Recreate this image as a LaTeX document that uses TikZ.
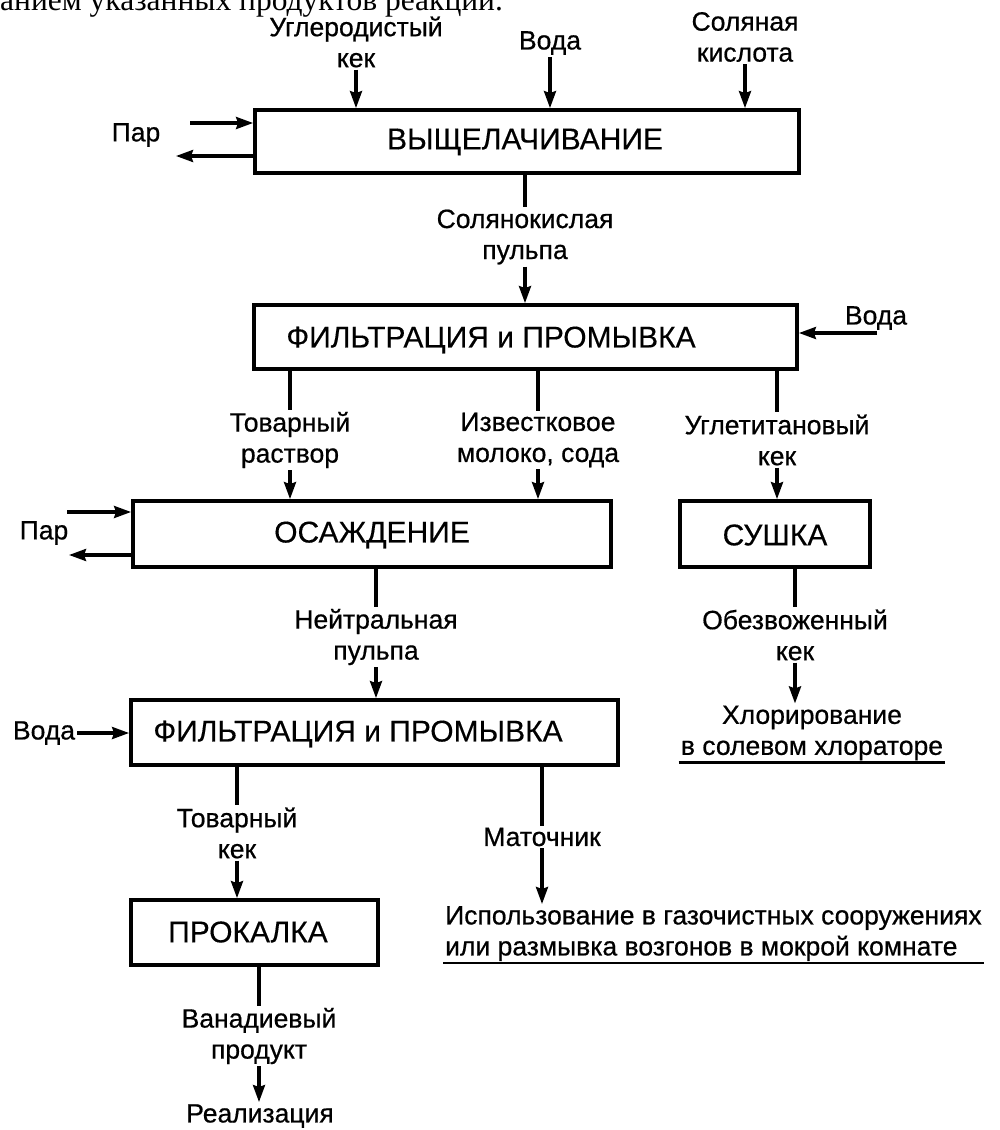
\documentclass[tikz,border=0pt]{standalone}
\usepackage{fontspec}
\setmainfont{Liberation Sans}
\newfontfamily\serifcut{Liberation Serif}
\newfontfamily\lblfont[FakeBold=0.6]{Liberation Sans}
\newfontfamily\ttlfont[FakeBold=0.3]{Liberation Sans}
\usetikzlibrary{arrows.meta}
\begin{document}
\begin{tikzpicture}[x=1pt,y=-1pt,
  lbl/.style={font=\lblfont\fontsize{26.5}{31}\selectfont, align=center, inner sep=2pt},
  ttl/.style={font=\ttlfont\fontsize{30}{34}\selectfont, inner sep=0pt},
  box/.style={draw, line width=3.8pt, inner sep=0pt},
  ln/.style={line width=3.2pt},
  arr/.style={line width=3.2pt, -{Stealth[length=17pt,width=12pt,inset=2pt]}},
  ul/.style={line width=2.6pt}]
\useasboundingbox (0,0) rectangle (1000,1130);
\fill[white] (0,0) rectangle (1000,1130);
% clipped top line
\node[anchor=base west, inner sep=0pt, font=\serifcut\fontsize{31.5}{32}\selectfont] (cut) at (0,10) {анием указанных продуктов реакций.};
% inputs top
\node[lbl] (l1) at (356,42) {Углеродистый\\кек};
\node[lbl] (l2) at (550,43) {Вода};
\node[lbl] (l3) at (745,37) {Соляная\\кислота};
% box 1
\node[box, minimum width=544, minimum height=63] (b1) at (527,141.5) {};
\node[ttl] (t1) at (525,142) {ВЫЩЕЛАЧИВАНИЕ};
\draw[arr] (l1.south) -- (l1.south |- b1.north);
\draw[arr] (l2.south) -- (l2.south |- b1.north);
\draw[arr] (l3.south) -- (l3.south |- b1.north);
\node[lbl] (p1) at (136,135) {Пар};
\coordinate (p1in) at (190,123);
\coordinate (p1out) at (176,156);
\draw[arr] (p1in) -- (p1in -| b1.west);
\draw[arr] (p1out -| b1.west) -- (p1out);
% to box 2
\node[lbl] (l4) at (525,237) {Солянокислая\\пульпа};
\draw[ln] (b1.south -| l4) -- (l4.north);
\node[box, minimum width=543, minimum height=64] (b2) at (525.5,337) {};
\node[ttl] (t2) at (491,340) {ФИЛЬТРАЦИЯ и ПРОМЫВКА};
\draw[arr] (l4.south) -- (l4.south |- b2.north);
\node[lbl] (v2) at (876,318) {Вода};
\coordinate (v2in) at (877,333);
\draw[arr] (v2in) -- (v2in -| b2.east);
% outputs of box 2
\node[lbl] (l5) at (290,440) {Товарный\\раствор};
\node[lbl] (l6) at (538,440) {Известковое\\молоко, сода};
\node[lbl] (l7) at (777,440) {Углетитановый\\кек};
\draw[ln] (b2.south -| l5) -- (l5.north);
\draw[ln] (b2.south -| l6) -- (l6.north);
\draw[ln] (b2.south -| l7) -- (l7.north);
% box 3 and drying
\node[box, minimum width=478, minimum height=66] (b3) at (372,534) {};
\node[ttl] (t3) at (372,535) {ОСАЖДЕНИЕ};
\node[box, minimum width=190, minimum height=66] (b6) at (775,534) {};
\node[ttl] (t6) at (775,535) {СУШКА};
\draw[arr] (l5.south) -- (l5.south |- b3.north);
\draw[arr] (l6.south) -- (l6.south |- b3.north);
\draw[arr] (l7.south) -- (l7.south |- b6.north);
\node[lbl] (p2) at (44,533) {Пар};
\coordinate (p2in) at (67,512);
\coordinate (p2out) at (69,555);
\draw[arr] (p2in) -- (p2in -| b3.west);
\draw[arr] (p2out -| b3.west) -- (p2out);
% from box 3
\node[lbl] (l8) at (376,637) {Нейтральная\\пульпа};
\draw[ln] (b3.south -| l8) -- (l8.north);
\node[box, minimum width=487, minimum height=65] (b4) at (374.5,732.5) {};
\node[ttl] (t4) at (358,734) {ФИЛЬТРАЦИЯ и ПРОМЫВКА};
\draw[arr] (l8.south) -- (l8.south |- b4.north);
\node[lbl] (v4) at (44,733) {Вода};
\draw[arr] (v4.east) -- (v4.east -| b4.west);
% from drying
\node[lbl] (l9) at (795,635) {Обезвоженный\\кек};
\draw[ln] (b6.south -| l9) -- (l9.north);
\node[lbl] (l13) at (812,733) {Хлорирование\\в солевом хлораторе};
\draw[arr] (l9.south) -- (l9.south |- l13.north);
\draw[ul] (l13.south west) -- (l13.south east);
% from box 4
\node[lbl] (l10) at (237,833) {Товарный\\кек};
\draw[ln] (b4.south -| l10) -- (l10.north);
\node[lbl] (l11) at (542,837) {Маточник};
\draw[ln] (b4.south -| l11) -- (l11.north);
\node[lbl, align=left, anchor=north west] (l12) at (443,904) {Использование в газочистных сооружениях\\или размывка возгонов в мокрой комнате};
\draw[arr] (l11.south) -- (l11.south |- l12.north);
\draw[ul] (l12.south west) -- (l12.south east);
% box 5
\node[box, minimum width=247, minimum height=65] (b5) at (254.5,932.5) {};
\node[ttl] (t5) at (248,932) {ПРОКАЛКА};
\draw[arr] (l10.south) -- (l10.south |- b5.north);
\node[lbl] (l14) at (259,1036) {Ванадиевый\\продукт};
\draw[ln] (b5.south -| l14) -- (l14.north);
\node[lbl] (l15) at (260,1116) {Реализация};
\draw[arr] (l14.south) -- (l14.south |- l15.north);
\end{tikzpicture}
\end{document}
